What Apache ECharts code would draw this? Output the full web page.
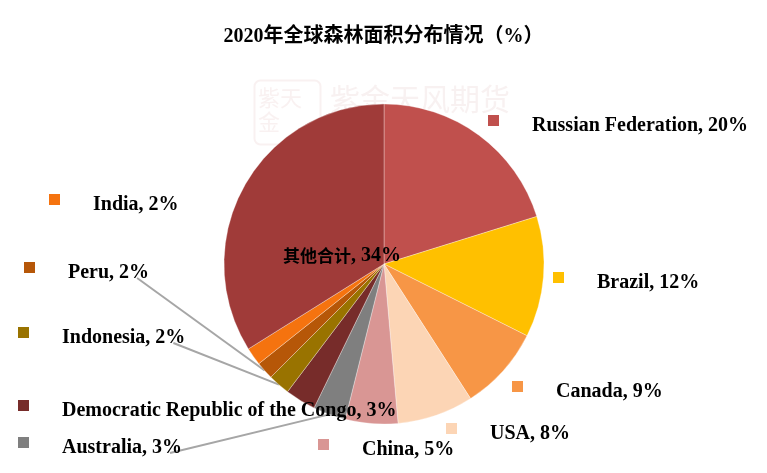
<!DOCTYPE html>
<html>
<head>
<meta charset="utf-8">
<script src="https://cdn.jsdelivr.net/npm/echarts@6/dist/echarts.min.js"></script>
<style>html,body{margin:0;padding:0;background:#fff;}#main{width:767px;height:473px;}</style>
</head>
<body>
<div id="main"></div>
<script>
const titleText = '2020年全球森林面积分布情况（%）';
const categories = ['Russian Federation','Brazil','Canada','USA','China','Australia','Democratic Republic of the Congo','Indonesia','Peru','India','其他合计'];
const shares = [20.2, 12.2, 8.5, 7.7, 5.3, 3.3, 3.1, 2.2, 1.8, 1.8, 33.9];
const colors = ['#c0504d','#ffc000','#f79646','#fcd5b5','#d99694','#7f7f7f','#772c2a','#997300','#b65708','#f5730f','#a03b39'];
// label layout (square-left x, line-top y) in pixels
const labelAnchors = [[488,115],[553,272],[512,381],[446,423],[318,439],[18,437],[18,400],[18,327],[24,262],[49,194],[239,245]];
const leaderIdx = [5,7,8];

const chart = echarts.init(document.getElementById('main'), null, {renderer:'canvas'});
const cx = 384, cy = 264, R = 160;

const rich = {
  gap: {width: 33, height: 11},
  t: {fontFamily: 'Liberation Serif', fontWeight: 'bold', fontSize: 20, lineHeight: 22, color: '#000'},
  cn: {fontFamily: 'Noto Sans CJK SC', fontWeight: 'bold', fontSize: 17, lineHeight: 22, color: '#000'}
};
colors.forEach((c, i) => { rich['sq' + i] = {width: 11, height: 11, backgroundColor: c, verticalAlign: 'top'}; });

const data = categories.map((name, i) => ({
  name: name,
  value: shares[i],
  itemStyle: {color: colors[i]},
  labelLine: {show: leaderIdx.indexOf(i) >= 0, lineStyle: {color: '#a6a6a6', width: 2}}
}));

function anchorFor(i) {
  let before = 0, total = 0;
  shares.forEach((v, k) => { total += v; if (k < i) before += v; });
  const mid = (before + shares[i] / 2) / total * Math.PI * 2;
  return [cx + R * Math.sin(mid), cy - R * Math.cos(mid)];
}

chart.setOption({
  animation: false,
  title: {
    text: titleText, left: 'center', top: 22,
    textStyle: {fontFamily: 'Liberation Serif, Noto Sans CJK SC', fontWeight: 'bold', fontSize: 20, color: '#000'}
  },
  graphic: [
    {type: 'text', left: 330, top: 84, z: 0, style: {text: '紫金天风期货', fontSize: 30, fontFamily: 'Noto Sans CJK SC', fill: 'rgba(200,140,140,0.12)'}},
    {type: 'rect', left: 252, top: 78, z: 0, shape: {width: 66, height: 64, r: 6}, style: {fill: 'none', stroke: 'rgba(200,120,120,0.10)', lineWidth: 2}},
    {type: 'text', left: 258, top: 86, z: 0, style: {text: '紫天\n金', fontSize: 22, lineHeight: 24, fontFamily: 'Noto Sans CJK SC', fill: 'rgba(200,120,120,0.10)'}}
  ],
  series: [{
    type: 'pie',
    center: [cx, cy],
    radius: [0, R],
    startAngle: 90,
    clockwise: true,
    avoidLabelOverlap: false,
    percentPrecision: 0,
    itemStyle: {borderColor: 'rgba(255,255,255,0.45)', borderWidth: 0.7},
    emphasis: {disabled: true},
    label: {
      show: true,
      position: 'outside',
      formatter: function (p) {
        const pct = Math.round(p.value);
        const isCn = /[\u4e00-\u9fff]/.test(p.name);
        return '{sq' + p.dataIndex + '|}{gap|}' + (isCn ? '{cn|' + p.name + '}{t|, ' + pct + '%}' : '{t|' + p.name + ', ' + pct + '%}');
      },
      rich: rich
    },
    labelLine: {show: false, length: 5, length2: 5},
    labelLayout: function (params) {
      const i = params.dataIndex;
      const a = labelAnchors[i];
      const out = {x: a[0], y: a[1], align: 'left', verticalAlign: 'top'};
      if (leaderIdx.indexOf(i) >= 0) {
        const w = params.labelRect.width;
        const start = [a[0] + w - 12, a[1] + 16];
        const end = anchorFor(i);
        out.labelLinePoints = [start, end, end];
      }
      return out;
    },
    data: data
  }]
});
</script>
</body>
</html>
